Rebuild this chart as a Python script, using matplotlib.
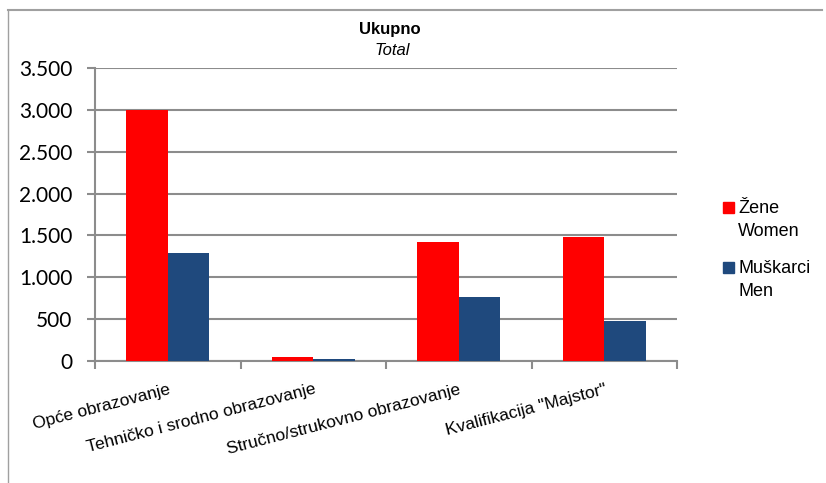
import matplotlib
matplotlib.use("Agg")
import matplotlib.pyplot as plt
from matplotlib import font_manager
from matplotlib.ticker import FuncFormatter, MultipleLocator, FixedLocator
from matplotlib.lines import Line2D
from matplotlib.patches import Rectangle
import numpy as np

categories = ["Opće obrazovanje", "Tehničko i srodno obrazovanje",
              "Stručno/strukovno obrazovanje", "Kvalifikacija \"Majstor\""]
women = [3000, 45, 1425, 1480]
men = [1290, 25, 770, 480]
series_labels = ["Žene\nWomen", "Muškarci\nMen"]
title_main = "Ukupno"
title_sub = "Total"

RED = "#FF0000"
BLUE = "#1F497D"
GRID = "#8C8C8C"
colors = [RED, BLUE]

names = {f.name for f in font_manager.fontManager.ttflist}
narrow = "Liberation Sans Narrow" in names
cat_family = "Liberation Sans Narrow" if narrow else "Liberation Sans"
cat_size = 14.5 if narrow else 12.5

fig = plt.figure(figsize=(8.26, 4.83), dpi=100)
ax = fig.add_axes([95/826, 1-361/483, (677-95)/826, (361-68)/483])

x = np.arange(len(categories))
w = 0.285
ax.bar(x - w/2, women, width=w, color=RED, label=series_labels[0], zorder=3)
ax.bar(x + w/2, men, width=w, color=BLUE, label=series_labels[1], zorder=3)

ax.set_xlim(-0.5, len(categories) - 0.5)
ax.set_ylim(0, 3500)
ax.yaxis.set_major_locator(MultipleLocator(500))
ax.yaxis.set_major_formatter(FuncFormatter(lambda v, p: f"{int(v):,}".replace(",", ".")))
ax.grid(axis="y", color=GRID, linewidth=1.5, zorder=0)
ax.set_axisbelow(True)

for s in ["top", "right"]:
    ax.spines[s].set_visible(False)
for s in ["left", "bottom"]:
    ax.spines[s].set_color(GRID)
    ax.spines[s].set_linewidth(1.5)

ax.tick_params(axis="y", length=5.8, width=1.5, color=GRID, labelsize=15, pad=10.5)
for lab in ax.get_yticklabels():
    lab.set_fontfamily("Lato")

ax.xaxis.set_major_locator(FixedLocator(np.arange(-0.5, len(categories), 1.0)))
ax.tick_params(axis="x", which="major", length=6, width=1.5, color=GRID, labelbottom=False)
ax.set_xticks(x, minor=True)
ax.tick_params(axis="x", which="minor", length=0, pad=15)
ax.set_xticklabels(categories, minor=True, rotation=14.5, ha="right",
                   rotation_mode="anchor", fontsize=cat_size, fontfamily=cat_family)

fig.text(390/826, 1-34/483, title_main, ha="center", va="baseline",
         fontsize=12, fontweight="bold", fontfamily="Liberation Sans")
fig.text(392/826, 1-55/483, title_sub, ha="center", va="baseline",
         fontsize=12, fontstyle="italic", fontfamily="Liberation Sans")

# legend drawn manually: square aligned with first line of label
leg_y = [208, 268]
for lbl, col, yy in zip(series_labels, colors, leg_y):
    fig.add_artist(Rectangle((723/826, 1-(yy+5)/483), 11/826, 11/483,
                             color=col, transform=fig.transFigure))
    fig.text(738/826, 1-(yy-8)/483, lbl, ha="left", va="top", fontsize=13,
             fontfamily="Liberation Sans", linespacing=1.5)

# outer frame lines
fig.add_artist(Line2D([8/826, 822/826], [1-10/483, 1-10/483], color="#A0A0A0", lw=1.5))
fig.add_artist(Line2D([8/826, 8/826], [1-10/483, 0], color="#A0A0A0", lw=1.0))

fig.savefig("out.png", dpi=100)
